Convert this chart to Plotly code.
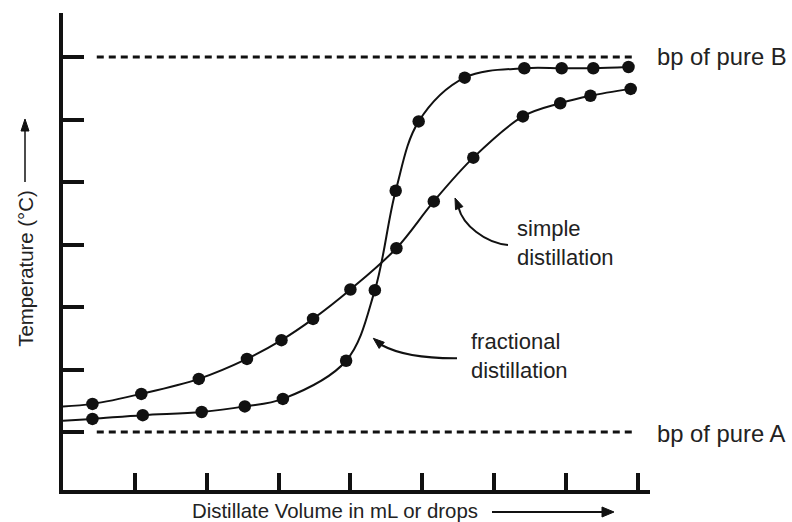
import plotly.graph_objects as go

# ---------------- data ----------------
simple_x = [0.41, 1.09, 1.89, 2.56, 3.04, 3.48, 4.00, 4.64, 5.16, 5.71, 6.40, 6.92, 7.34, 7.90]
simple_y = [1.45, 1.61, 1.85, 2.17, 2.47, 2.81, 3.28, 3.94, 4.69, 5.39, 6.05, 6.26, 6.38, 6.49]
simple_start_y = 1.41

fractional_x = [0.41, 1.11, 1.93, 2.53, 3.06, 3.94, 4.34, 4.63, 4.95, 5.59, 6.42, 6.94, 7.38, 7.87]
fractional_y = [1.21, 1.27, 1.32, 1.41, 1.53, 2.14, 3.27, 4.86, 5.97, 6.67, 6.82, 6.82, 6.82, 6.84]
fractional_start_y = 1.18

bp_A = 1.0
bp_B = 7.0
bp_line_x = [0.47, 7.93]

x_ticks = [1, 2, 3, 4, 5, 6, 7, 8]
y_ticks = [1, 2, 3, 4, 5, 6, 7]

x_label = "Distillate Volume in mL or drops"
y_label = "Temperature (°C)"

# ---------------- layout geometry ----------------
W, H = 792, 522
ML, MR, MT, MB = 63, 142, 13, 32
PW, PH = W - ML - MR, H - MT - MB
FONT = "Liberation Sans, Arial, Helvetica, sans-serif"
INK = "#111111"


def px(x):
    return (x - ML) / PW


def py(y):
    return (H - MB - y) / PH


def path(points, cmd="C"):
    s = "M %.5f,%.5f " % (px(points[0][0]), py(points[0][1]))
    s += cmd + " " + " ".join("%.5f,%.5f" % (px(a), py(b)) for a, b in points[1:])
    return s


def head(tip, d, length=11, width=8):
    import math
    n = math.hypot(*d)
    ux, uy = d[0] / n, d[1] / n
    bx, by = tip[0] - ux * length, tip[1] - uy * length
    pxv, pyv = -uy, ux
    pts = [tip, (bx + pxv * width / 2, by + pyv * width / 2), (bx - pxv * width / 2, by - pyv * width / 2)]
    return "M " + " L ".join("%.5f,%.5f" % (px(a), py(b)) for a, b in pts) + " Z"


fig = go.Figure()

# bp dashed lines
for yv in (bp_A, bp_B):
    fig.add_trace(go.Scatter(x=bp_line_x, y=[yv, yv], mode="lines",
                             line=dict(color=INK, width=3, dash="7px,5px"),
                             showlegend=False, hoverinfo="skip"))

# curves
fig.add_trace(go.Scatter(x=[0] + simple_x, y=[simple_start_y] + simple_y, mode="lines",
                         line=dict(color=INK, width=2, shape="spline", smoothing=1.0),
                         showlegend=False, name="simple distillation"))
fig.add_trace(go.Scatter(x=[0] + fractional_x, y=[fractional_start_y] + fractional_y, mode="lines",
                         line=dict(color=INK, width=2, shape="spline", smoothing=1.0),
                         showlegend=False, name="fractional distillation"))
fig.add_trace(go.Scatter(x=simple_x, y=simple_y, mode="markers",
                         marker=dict(color=INK, size=12.5), showlegend=False))
fig.add_trace(go.Scatter(x=fractional_x, y=fractional_y, mode="markers",
                         marker=dict(color=INK, size=12.5), showlegend=False))

shapes = []
line_style = dict(color=INK, width=2)
# curved pointer arrows
shapes.append(dict(type="path", xref="paper", yref="paper",
                   path=path([(508, 245), (485, 243), (463, 225), (458.5, 207.5)]),
                   line=line_style))
shapes.append(dict(type="path", xref="paper", yref="paper",
                   path=head((455, 198), (-5, -12)), fillcolor=INK, line=dict(color=INK, width=1)))
shapes.append(dict(type="path", xref="paper", yref="paper",
                   path=path([(457, 358.3), (430, 358.5), (400, 355), (381.5, 345)]),
                   line=line_style))
shapes.append(dict(type="path", xref="paper", yref="paper",
                   path=head((373.3, 338.3), (-10, -8.4)), fillcolor=INK, line=dict(color=INK, width=1)))
# axis-title arrows
shapes.append(dict(type="line", xref="paper", yref="paper",
                   x0=px(25), y0=py(182), x1=px(25), y1=py(128), line=dict(color=INK, width=1.5)))
shapes.append(dict(type="path", xref="paper", yref="paper",
                   path=head((25, 119), (0, -1), length=12, width=8), fillcolor=INK, line=dict(color=INK, width=1)))
shapes.append(dict(type="line", xref="paper", yref="paper",
                   x0=px(492), y0=py(512), x1=px(606), y1=py(512), line=dict(color=INK, width=2)))
shapes.append(dict(type="path", xref="paper", yref="paper",
                   path=head((614, 512), (1, 0), length=12, width=10), fillcolor=INK, line=dict(color=INK, width=1)))

ann = []


def text(t, x, y, size, xanchor="left", angle=0):
    ann.append(dict(text=t, xref="paper", yref="paper", x=px(x), y=py(y), showarrow=False,
                    xanchor=xanchor, yanchor="middle", textangle=angle, align="left",
                    borderpad=0, borderwidth=0,
                    font=dict(family=FONT, size=size, color="#222222")))


text("bp of pure B", 657, 56.5, 23.8)
text("bp of pure A", 657, 433, 23.8)
text("simple<br>distillation", 517, 242.5, 22)
text("fractional<br>distillation", 471, 356.2, 22)
text(x_label, 192, 510.8, 20.4)
text(y_label, 25.8, 268, 20.4, xanchor="center", angle=-90)

fig.update_layout(
    width=W, height=H,
    margin=dict(l=ML, r=MR, t=MT, b=MB, pad=0),
    paper_bgcolor="white", plot_bgcolor="white",
    shapes=shapes, annotations=ann,
    showlegend=False,
    xaxis=dict(range=[0, PW / 71.857], showgrid=False, zeroline=False, showline=True,
               linecolor=INK, linewidth=4, ticks="inside", tickvals=x_ticks, ticklen=17,
               tickwidth=4, tickcolor=INK, showticklabels=False, fixedrange=True),
    yaxis=dict(range=[1 - (H - MB - 432) / 62.5, 1 + (432 - MT) / 62.5], showgrid=False,
               zeroline=False, showline=True, linecolor=INK, linewidth=4, ticks="inside",
               tickvals=y_ticks, ticklen=21, tickwidth=4, tickcolor=INK,
               showticklabels=False, fixedrange=True),
)

fig.write_html("out.html")
